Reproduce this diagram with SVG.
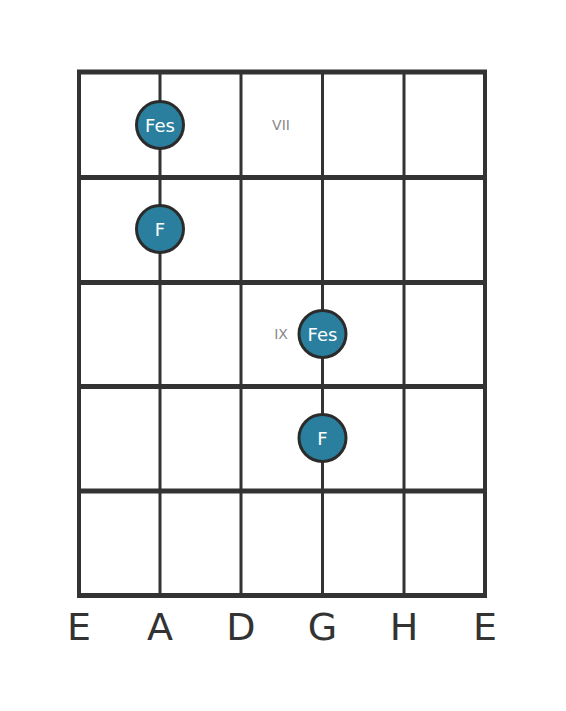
<svg xmlns="http://www.w3.org/2000/svg" width="566" height="711" viewBox="0 0 566 711">
<style>
.fret{stroke:#333;stroke-width:5;fill:none}
.str{stroke:#333;stroke-width:3;fill:none}
.border{stroke:#333;stroke-width:4;fill:none}
.dot circle{fill:#2a7f9e;stroke:#2b2b2b;stroke-width:3}
.dot text{fill:#fff;font-family:"DejaVu Sans",sans-serif;font-size:18px;text-anchor:middle}
.pos{fill:#888;font-family:"DejaVu Sans",sans-serif;font-size:14px;text-anchor:middle}
.lbl{fill:#333;font-family:"DejaVu Sans",sans-serif;font-size:38px;text-anchor:middle}
</style>
<rect width="566" height="711" fill="#fff"/>
<g id="grid">
<line class="str" x1="160" y1="72" x2="160" y2="596"/>
<line class="str" x1="241" y1="72" x2="241" y2="596"/>
<line class="str" x1="322.5" y1="72" x2="322.5" y2="596"/>
<line class="str" x1="404" y1="72" x2="404" y2="596"/>
<line class="border" x1="79" y1="72" x2="79" y2="596"/>
<line class="border" x1="485" y1="72" x2="485" y2="596"/>
<line class="fret" x1="77" y1="72" x2="487" y2="72"/>
<line class="fret" x1="77" y1="177.5" x2="487" y2="177.5"/>
<line class="fret" x1="77" y1="282.5" x2="487" y2="282.5"/>
<line class="fret" x1="77" y1="386.5" x2="487" y2="386.5"/>
<line class="fret" x1="77" y1="491" x2="487" y2="491"/>
<line class="fret" x1="77" y1="595.5" x2="487" y2="595.5"/>
</g>
<g id="positions">
<text class="pos" x="281" y="130">VII</text>
<text class="pos" x="281" y="339">IX</text>
</g>
<g id="note1" class="dot"><circle cx="160" cy="125" r="23.5"/><text x="160" y="131.5">Fes</text></g>
<g id="note2" class="dot"><circle cx="160" cy="229" r="23.5"/><text x="160" y="235.5">F</text></g>
<g id="note3" class="dot"><circle cx="322.5" cy="334" r="23.5"/><text x="322.5" y="340.5">Fes</text></g>
<g id="note4" class="dot"><circle cx="322.5" cy="438" r="23.5"/><text x="322.5" y="444.5">F</text></g>
<g id="strings">
<text class="lbl" x="79" y="640">E</text>
<text class="lbl" x="160" y="640">A</text>
<text class="lbl" x="241" y="640">D</text>
<text class="lbl" x="322.5" y="640">G</text>
<text class="lbl" x="404" y="640">H</text>
<text class="lbl" x="485" y="640">E</text>
</g>
</svg>
